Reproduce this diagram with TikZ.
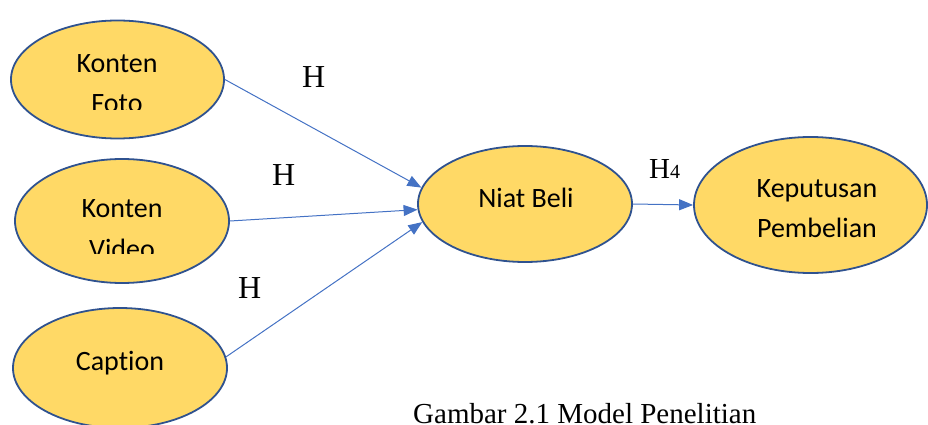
\documentclass[tikz,border=0pt]{standalone}
\usepackage{fontspec}
\setmainfont{Liberation Serif}
\newfontfamily\calibri[Ligatures=NoCommon]{Carlito}
\usetikzlibrary{shapes.geometric,arrows.meta}
\definecolor{gold}{HTML}{FFD966}
\definecolor{rim}{HTML}{2F528F}
\definecolor{linkblue}{HTML}{4472C4}
\begin{document}
\begin{tikzpicture}[x=1pt,y=-1pt,
 blob/.style={ellipse, draw=rim, line width=1.8pt, fill=gold, inner sep=0pt},
 lbl/.style={font=\calibri\fontsize{28}{28}\selectfont, anchor=base, inner sep=0pt},
 hyp/.style={font=\fontsize{32}{32}\selectfont, anchor=base west, inner sep=0pt},
 link/.style={draw=linkblue, line width=1pt, -{Triangle[length=14pt,width=11pt]}}]
\useasboundingbox (0,0) rectangle (928,425);
% ellipses
\node[blob, minimum width=213pt, minimum height=118pt] (foto) at (117.5,79.5) {};
\node[blob, minimum width=214pt, minimum height=124pt] (video) at (122,221) {};
\node[blob, minimum width=214pt, minimum height=120pt] (caption) at (120,368) {};
\node[blob, minimum width=214pt, minimum height=116pt] (niat) at (525,204) {};
\node[blob, minimum width=233pt, minimum height=136pt] (keput) at (810.5,205) {};
% texts
\begin{scope}
\clip (0,0) rectangle (240,110);
\node[lbl] (fotoA) at (117,73) {Konten};
\node[lbl] (fotoB) at (117,113) {Foto};
\end{scope}
\begin{scope}
\clip (0,150) rectangle (240,253);
\node[lbl] (videoA) at (122,217) {Konten};
\node[lbl] (videoB) at (122,258) {Video};
\end{scope}
\node[lbl] (captionT) at (120,370) {Caption};
\node[lbl] (niatT) at (526,207) {Niat Beli};
\node[lbl] (keputA) at (817,197) {Keputusan};
\node[lbl] (keputB) at (817,237) {Pembelian};
% connectors
\draw[link] (foto.east) -- (niat.171);
\draw[link] (video.east) -- (niat.183);
\draw[link] (caption.6) -- (niat.190);
\draw[link] (niat.east) -- (keput.west);
% hypothesis labels
\node[hyp] (h1) at (302,88) {H};
\node[hyp] (h2) at (272,185) {H};
\node[hyp] (h3) at (238,298) {H};
\node[anchor=base west, inner sep=0pt, font=\fontsize{29}{29}\selectfont] (h4) at (649,178) {H{\fontsize{20}{20}\selectfont 4}};
% caption
\node[anchor=base west, inner sep=0pt, font=\fontsize{29}{29}\selectfont] (fig) at (413,423) {Gambar 2.1 Model Penelitian};
\end{tikzpicture}
\end{document}
